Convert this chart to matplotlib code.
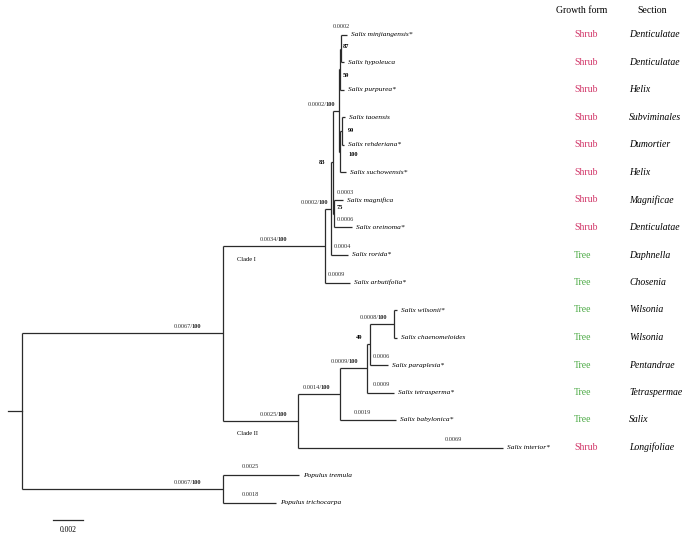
import matplotlib.pyplot as plt
from matplotlib.transforms import offset_copy

plt.rcParams["font.family"] = ["Liberation Serif", "DejaVu Serif"]

# tips, top to bottom
taxa = ["Salix minjiangensis*", "Salix hypoleuca", "Salix purpurea*", "Salix taoensis",
        "Salix rehderiana*", "Salix suchowensis*", "Salix magnifica", "Salix oreinoma*",
        "Salix rorida*", "Salix arbutifolia*", "Salix wilsonii*", "Salix chaenomeloides",
        "Salix paraplesia*", "Salix tetrasperma*", "Salix babylonica*", "Salix interior*",
        "Populus tremula", "Populus trichocarpa"]
growth = ["Shrub"] * 8 + ["Tree"] * 7 + ["Shrub", None, None]
section = ["Denticulatae", "Denticulatae", "Helix", "Subviminales", "Dumortier", "Helix",
           "Magnificae", "Denticulatae", "Daphnella", "Chosenia", "Wilsonia", "Wilsonia",
           "Pentandrae", "Tetraspermae", "Salix", "Longifoliae", None, None]
tip_parent = ["n87", "n87", "n59", "n99", "n99", "n100", "w", "w", "y", "clade1",
              "d", "d", "c", "b", "a", "clade2", "outgroup", "outgroup"]
tip_depth = [0.01083, 0.01073, 0.01073, 0.01077, 0.01073, 0.0108, 0.0107, 0.011,
             0.01087, 0.01093, 0.0125, 0.0125, 0.0122, 0.0124, 0.01247, 0.01603,
             0.00923, 0.00847]
tip_length = ["0.0002", "", "", "", "", "", "0.0003", "0.0006", "0.0004", "0.0009",
              "", "", "0.0006", "0.0009", "0.0019", "0.0069", "0.0025", "0.0018"]

# internal nodes
node_names = ["root", "ingroup", "outgroup", "clade1", "y", "z", "q", "n59", "n87",
              "n100", "n99", "w", "clade2", "a", "b", "c", "d"]
node_parent = [None, "root", "root", "ingroup", "clade1", "y", "z", "q", "n59",
               "q", "n100", "z", "ingroup", "clade2", "a", "b", "c"]
node_depth = [0.0, 0.0067, 0.0067, 0.0101, 0.0103, 0.01037, 0.01057, 0.0106, 0.01063,
              0.0106, 0.01067, 0.0104, 0.0092, 0.0106, 0.0115, 0.0116, 0.0124]
node_length = ["", ("0.0067", "100"), ("0.0067", "100"), ("0.0034", "100"),
               ("0.0002", "100"), "", ("0.0002", "100"), "", "", "", "", "",
               ("0.0025", "100"), ("0.0014", "100"), ("0.0009", "100"), "",
               ("0.0008", "100")]
node_support = ["", "", "", "", "", "83", "", "59", "87", "100", "99", "75",
                "", "", "", "49", ""]

PX = 1 / 30000   # one pixel in branch-length units
PY = 1 / 27.5    # one pixel in row units

shrub_c = "#d2386a"
tree_c = "#4caa45"
line_c = "#2b2b2b"

fig = plt.figure(figsize=(6.9, 5.41), dpi=100)
ax = fig.add_axes([0, 0, 1, 1])
ax.set_xlim(-22 * PX, 668 * PX)
ax.set_ylim((541 - 35) * PY, -35 * PY)
ax.axis("off")
renderer = fig.canvas.get_renderer()

depth = dict(zip(node_names, node_depth))
parent = dict(zip(node_names, node_parent))
children = {n: [] for n in node_names}
for i, p in enumerate(tip_parent):
    children[p].append(("tip", i))
for n, p in zip(node_names, node_parent):
    if p:
        children[p].append(("node", n))

ypos = {}


def node_y(n):
    ys = []
    for kind, c in children[n]:
        ys.append(c if kind == "tip" else node_y(c))
    ypos[n] = (min(ys) + max(ys)) / 2
    return ypos[n]


node_y("root")

# vertical lines of internal nodes + their stems
for n in node_names:
    ys = [c if k == "tip" else ypos[c] for k, c in children[n]]
    ax.plot([depth[n], depth[n]], [min(ys), max(ys)], color=line_c, lw=0.9,
            solid_capstyle="butt")
    if parent[n]:
        ax.plot([depth[parent[n]], depth[n]], [ypos[n], ypos[n]], color=line_c, lw=0.9,
                solid_capstyle="butt")
ax.plot([-14 * PX, 0], [ypos["root"], ypos["root"]], color=line_c, lw=0.9)

# tip branches and names
tip_shift = {0: -8, 12: 3, 13: 6, 14: 14, 15: 147, 16: 19, 17: 19}
for i, name in enumerate(taxa):
    x0 = depth[tip_parent[i]]
    ax.plot([x0, tip_depth[i]], [i, i], color=line_c, lw=0.9, solid_capstyle="butt")
    ax.text(tip_depth[i] + 4 * PX, i, name, style="italic", fontsize=5.3,
            va="center", ha="left")
    if tip_length[i]:
        ax.text(x0 + tip_shift.get(i, 3) * PX, i - 6.5 * PY, tip_length[i],
                fontsize=4.6, va="baseline", ha="left", color="#333333")

# branch length (regular) / bootstrap (bold) on internal branches
len_dx = {"ingroup": -22, "outgroup": -22, "clade1": -38, "y": -3, "q": -4,
          "clade2": -11, "a": -10, "b": -9, "d": -7}
for n, lab in zip(node_names, node_length):
    if lab:
        x = depth[n] + len_dx[n] * PX
        y = ypos[n] - 5 * PY
        tb = ax.text(x, y, lab[1], fontsize=4.6, fontweight="bold",
                     ha="right", va="baseline", color="#222222")
        w = tb.get_window_extent(renderer).width - 1.5
        ax.text(x, y, lab[0] + "/", fontsize=4.6, ha="right", va="baseline",
                color="#333333",
                transform=offset_copy(ax.transData, fig, x=-w, units="dots"))

sup_off = {"z": (-8, 0), "n59": (3, 6), "n87": (2, -2), "n100": (8, 3),
           "n99": (6, -1), "w": (3, -6), "c": (-8, -7)}
for n, s in zip(node_names, node_support):
    if s:
        dx, dy = sup_off[n]
        ax.text(depth[n] + dx * PX, ypos[n] + dy * PY, s, fontsize=4.6,
                fontweight="bold", ha="left" if dx > 0 else "right", va="center")

# clade names
ax.text(depth["ingroup"] + 14 * PX, ypos["clade1"] + 14 * PY, "Clade I",
        fontsize=4.6, va="center", ha="left")
ax.text(depth["ingroup"] + 14 * PX, ypos["clade2"] + 13 * PY, "Clade II",
        fontsize=4.6, va="center", ha="left")

# right-hand columns
tr = ax.get_yaxis_transform()
ax.text(582 / 690, -24 * PY, "Growth form", transform=tr, fontsize=7,
        ha="center", va="center")
ax.text(652 / 690, -24 * PY, "Section", transform=tr, fontsize=7,
        ha="center", va="center")
for i, (g, s) in enumerate(zip(growth, section)):
    if g:
        ax.text(574 / 690, i, g, transform=tr, fontsize=7, va="center", ha="left",
                color=shrub_c if g == "Shrub" else tree_c)
    if s:
        ax.text(629 / 690, i, s, transform=tr, fontsize=7, va="center", ha="left",
                style="italic")

# scale bar (drawn as in the source figure)
bar_y = 17 + 17.5 * PY
ax.plot([31 * PX, 61 * PX], [bar_y, bar_y], color=line_c, lw=0.9)
ax.text(46 * PX, bar_y + 10 * PY, "0.002", fontsize=5.5, ha="center", va="center")

fig.savefig("out.png", dpi=100)
